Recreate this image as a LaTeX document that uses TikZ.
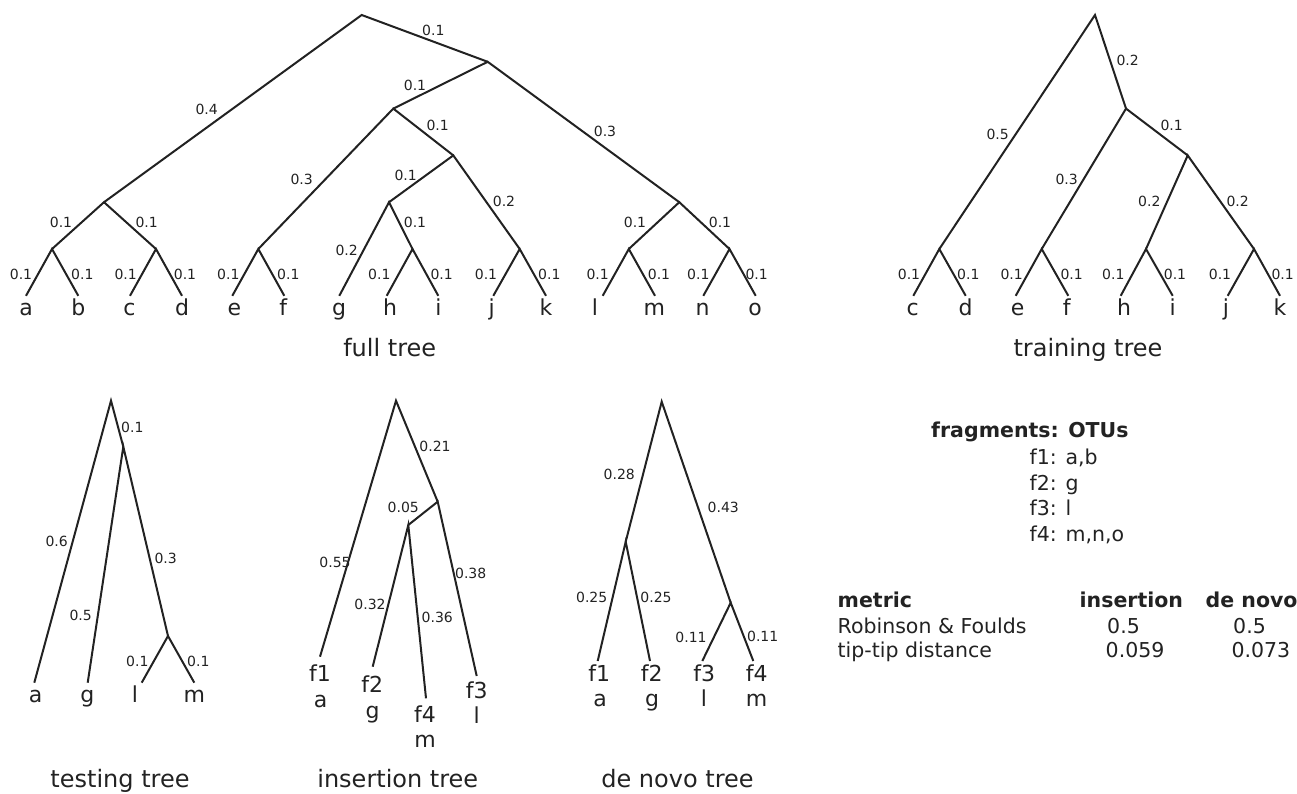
\documentclass[tikz,border=0pt]{standalone}
\usepackage{fontspec}
\setmainfont{DejaVu Sans}
\definecolor{inkc}{RGB}{34,34,34}
\begin{document}
\begin{tikzpicture}[x=1pt,y=-1pt,
  edge/.style={draw=inkc, line width=2pt, line join=miter},
  blab/.style={font=\fontsize{14}{16}\selectfont, text=inkc, inner sep=0pt},
  leaf/.style={font=\fontsize{22}{26}\selectfont, text=inkc, inner sep=0pt, anchor=base},
  captext/.style={font=\fontsize{24}{28}\selectfont, text=inkc, inner sep=0pt, anchor=base},
  tab/.style={font=\fontsize{20.5}{24}\selectfont, text=inkc, inner sep=0pt, anchor=base west},
  tabb/.style={font=\fontsize{20.5}{24}\selectfont\bfseries, text=inkc, inner sep=0pt, anchor=base west}]
\useasboundingbox (0,0) rectangle (1297,794);

% ================= full tree =================
\coordinate (F-root) at (361.7,15);
\coordinate (F-A) at (487.7,61.8);
\coordinate (F-B) at (393.3,108.6);
\coordinate (F-C) at (453.3,155.4);
\coordinate (F-D) at (389,202.2);
\coordinate (F-E) at (412.5,249);
\coordinate (F-abcd) at (104,202.2);
\coordinate (F-ab) at (52,249);
\coordinate (F-cd) at (156,249);
\coordinate (F-ef) at (258.3,249);
\coordinate (F-jk) at (519.7,249);
\coordinate (F-lmno) at (679.3,202.2);
\coordinate (F-lm) at (628.8,249);
\coordinate (F-no) at (729.5,249);
\foreach \n/\x in {a/26,b/78.3,c/130,d/182,e/232.3,f/284.3,g/339.3,h/386.7,i/438.3,j/493.3,k/546,l/602.7,m/655,n/703.3,o/755.7}
  \coordinate (F-\n) at (\x,295.8);

\draw[edge] (F-abcd) -- (F-root) -- (F-A);
\draw[edge] (F-B) -- (F-A) -- (F-lmno);
\draw[edge] (F-ef) -- (F-B) -- (F-C);
\draw[edge] (F-D) -- (F-C) -- (F-jk);
\draw[edge] (F-g) -- (F-D) -- (F-E);
\draw[edge] (F-h) -- (F-E) -- (F-i);
\draw[edge] (F-ab) -- (F-abcd) -- (F-cd);
\draw[edge] (F-a) -- (F-ab) -- (F-b);
\draw[edge] (F-c) -- (F-cd) -- (F-d);
\draw[edge] (F-e) -- (F-ef) -- (F-f);
\draw[edge] (F-j) -- (F-jk) -- (F-k);
\draw[edge] (F-lm) -- (F-lmno) -- (F-no);
\draw[edge] (F-l) -- (F-lm) -- (F-m);
\draw[edge] (F-n) -- (F-no) -- (F-o);

\node[blab] (FL1) at (433.3,30) {0.1};
\node[blab] (FL2) at (206.7,109) {0.4};
\node[blab] (FL3) at (415,85) {0.1};
\node[blab] (FL4) at (605,131) {0.3};
\node[blab] (FL5) at (301.7,179) {0.3};
\node[blab] (FL6) at (437.7,125) {0.1};
\node[blab] (FL7) at (405.7,175) {0.1};
\node[blab] (FL8) at (504,201.7) {0.2};
\node[blab] (FL9) at (346.7,250) {0.2};
\node[blab] (FL10) at (415,222.7) {0.1};
\node[blab] (FL11) at (61,222.7) {0.1};
\node[blab] (FL12) at (146.7,222.7) {0.1};
\node[blab] (FL13) at (635,222.7) {0.1};
\node[blab] (FL14) at (720,222.7) {0.1};
\foreach \n/\x in {a/21,b/82.3,c/125.7,d/185,e/228.3,f/288.3,h/379.3,i/441.7,j/486,k/549.3,l/597.7,m/659,n/698.3,o/756.7}
  \node[blab] (FB-\n) at (\x,274) {0.1};

\foreach \n/\x in {a/26,b/78.3,c/129.3,d/182,e/234.3,f/283.3,g/339,h/390,i/438.3,j/491.7,k/546,l/595,m/654.3,n/702.7,o/755}
  \node[leaf] (FT-\n) at (\x,315) {\n};
\node[captext] (Fcap) at (389.7,356.7) {full tree};

% ================= training tree =================
\coordinate (R-root) at (1095,15);
\coordinate (R-N1) at (1126,108.6);
\coordinate (R-N2) at (1187.7,155.4);
\coordinate (R-cd) at (939.3,249);
\coordinate (R-ef) at (1041.7,249);
\coordinate (R-hi) at (1146,249);
\coordinate (R-jk) at (1254,249);
\foreach \n/\x in {c/913.3,d/965.7,e/1015.7,f/1068.3,h/1120.7,i/1172.7,j/1227.7,k/1280}
  \coordinate (R-\n) at (\x,295.8);
\draw[edge] (R-cd) -- (R-root) -- (R-N1);
\draw[edge] (R-ef) -- (R-N1) -- (R-N2);
\draw[edge] (R-hi) -- (R-N2) -- (R-jk);
\draw[edge] (R-c) -- (R-cd) -- (R-d);
\draw[edge] (R-e) -- (R-ef) -- (R-f);
\draw[edge] (R-h) -- (R-hi) -- (R-i);
\draw[edge] (R-j) -- (R-jk) -- (R-k);
\node[blab] (RL1) at (1127.7,60) {0.2};
\node[blab] (RL2) at (997.7,134.3) {0.5};
\node[blab] (RL3) at (1171.7,125) {0.1};
\node[blab] (RL4) at (1066.7,179) {0.3};
\node[blab] (RL5) at (1149.3,201) {0.2};
\node[blab] (RL6) at (1237.7,201.7) {0.2};
\foreach \n/\x in {c/909,d/968.3,e/1011.7,f/1071.7,h/1113.3,i/1175,j/1220,k/1282.7}
  \node[blab] (RB-\n) at (\x,274) {0.1};
\foreach \n/\x in {c/912.7,d/965.7,e/1017.7,f/1066.7,h/1124,i/1172.7,j/1226,k/1280}
  \node[leaf] (RT-\n) at (\x,315) {\n};
\node[captext] (Rcap) at (1088,356.3) {training tree};

% ================= testing tree =================
\coordinate (T-root) at (111,400.7);
\coordinate (T-N1) at (123.3,446.7);
\coordinate (T-lm) at (168,636);
\coordinate (T-a) at (34.3,682.7);
\coordinate (T-g) at (87.7,682.7);
\coordinate (T-l) at (141.7,682.7);
\coordinate (T-m) at (194.3,682.7);
\draw[edge] (T-a) -- (T-root) -- (T-N1);
\draw[edge] (T-g) -- (T-N1) -- (T-lm);
\draw[edge] (T-l) -- (T-lm) -- (T-m);
\node[blab] (TL1) at (132.3,427.3) {0.1};
\node[blab] (TL2) at (56.7,541) {0.6};
\node[blab] (TL3) at (80.7,615) {0.5};
\node[blab] (TL4) at (165.7,558.3) {0.3};
\node[blab] (TL5) at (137.3,661) {0.1};
\node[blab] (TL6) at (198.3,661) {0.1};
\node[leaf] (TT-a) at (35.7,702.7) {a};
\node[leaf] (TT-g) at (87.3,702.7) {g};
\node[leaf] (TT-l) at (135,702.7) {l};
\node[leaf] (TT-m) at (194.3,702.7) {m};
\node[captext] (Tcap) at (120,787.5) {testing tree};

% ================= insertion tree =================
\coordinate (I-root) at (396,400.7);
\coordinate (I-N1) at (437.7,501.7);
\coordinate (I-N2) at (408.3,525);
\coordinate (I-f1) at (320,656.7);
\coordinate (I-f2) at (372.7,666.7);
\coordinate (I-f4) at (426,698.3);
\coordinate (I-f3) at (476.7,676);
\draw[edge] (I-f1) -- (I-root) -- (I-N1);
\draw[edge] (I-N2) -- (I-N1) -- (I-f3);
\draw[edge] (I-f2) -- (I-N2) -- (I-f4);
\node[blab] (IL1) at (435,446) {0.21};
\node[blab] (IL2) at (403.3,507.3) {0.05};
\node[blab] (IL3) at (335,562.3) {0.55};
\node[blab] (IL4) at (470.7,573.3) {0.38};
\node[blab] (IL5) at (370,604) {0.32};
\node[blab] (IL6) at (437.3,617.3) {0.36};
\node[leaf] (IT-f1) at (320,681.7) {f1};
\node[leaf] (IT-a) at (320.7,707.3) {a};
\node[leaf] (IT-f2) at (372.3,692.3) {f2};
\node[leaf] (IT-g) at (372.7,718) {g};
\node[leaf] (IT-f4) at (425,722.3) {f4};
\node[leaf] (IT-m) at (425,747.7) {m};
\node[leaf] (IT-f3) at (476.7,698.3) {f3};
\node[leaf] (IT-l) at (476.7,723.3) {l};
\node[captext] (Icap) at (397.8,787.5) {insertion tree};

% ================= de novo tree =================
\coordinate (D-root) at (661.7,401.7);
\coordinate (D-N1) at (625.7,541.7);
\coordinate (D-N2) at (730.7,602.7);
\coordinate (D-f1) at (597.7,661);
\coordinate (D-f2) at (650,661);
\coordinate (D-f3) at (702.3,661);
\coordinate (D-f4) at (753.3,661);
\draw[edge] (D-N1) -- (D-root) -- (D-N2);
\draw[edge] (D-f1) -- (D-N1) -- (D-f2);
\draw[edge] (D-f3) -- (D-N2) -- (D-f4);
\node[blab] (DL1) at (619.3,474.3) {0.28};
\node[blab] (DL2) at (723.3,507.3) {0.43};
\node[blab] (DL3) at (591.7,597.3) {0.25};
\node[blab] (DL4) at (656,597.3) {0.25};
\node[blab] (DL5) at (691,637.3) {0.11};
\node[blab] (DL6) at (762.7,636) {0.11};
\node[leaf] (DT-f1) at (599.3,681) {f1};
\node[leaf] (DT-a) at (600,706.7) {a};
\node[leaf] (DT-f2) at (651.7,681) {f2};
\node[leaf] (DT-g) at (652,706.7) {g};
\node[leaf] (DT-f3) at (704.3,681) {f3};
\node[leaf] (DT-l) at (704,706.7) {l};
\node[leaf] (DT-f4) at (756.7,681) {f4};
\node[leaf] (DT-m) at (756.7,706.7) {m};
\node[captext] (Dcap) at (677.5,787.5) {de novo tree};

% ================= text block =================
\node[tabb] (fragT) at (931,437.7) {fragments: OTUs};
\node[tab] (frag1) at (1029.5,464) {f1: a,b};
\node[tab] (frag2) at (1029.5,490) {f2: g};
\node[tab] (frag3) at (1029.5,515.7) {f3: l};
\node[tab] (frag4) at (1029.5,541.7) {f4: m,n,o};

\node[tabb] (mh) at (837.5,607.3) {metric};
\node[tabb] (ih) at (1079.5,607.3) {insertion};
\node[tabb] (dh) at (1205.5,607.3) {de novo};
\node[tab] (m1) at (837.5,633.3) {Robinson \& Foulds};
\node[tab] (m2) at (837.5,657.7) {tip-tip distance};
\node[tab] (i1) at (1107,633.3) {0.5};
\node[tab] (i2) at (1105.5,657.7) {0.059};
\node[tab] (d1) at (1233,633.3) {0.5};
\node[tab] (d2) at (1231.3,657.7) {0.073};
\end{tikzpicture}
\end{document}
